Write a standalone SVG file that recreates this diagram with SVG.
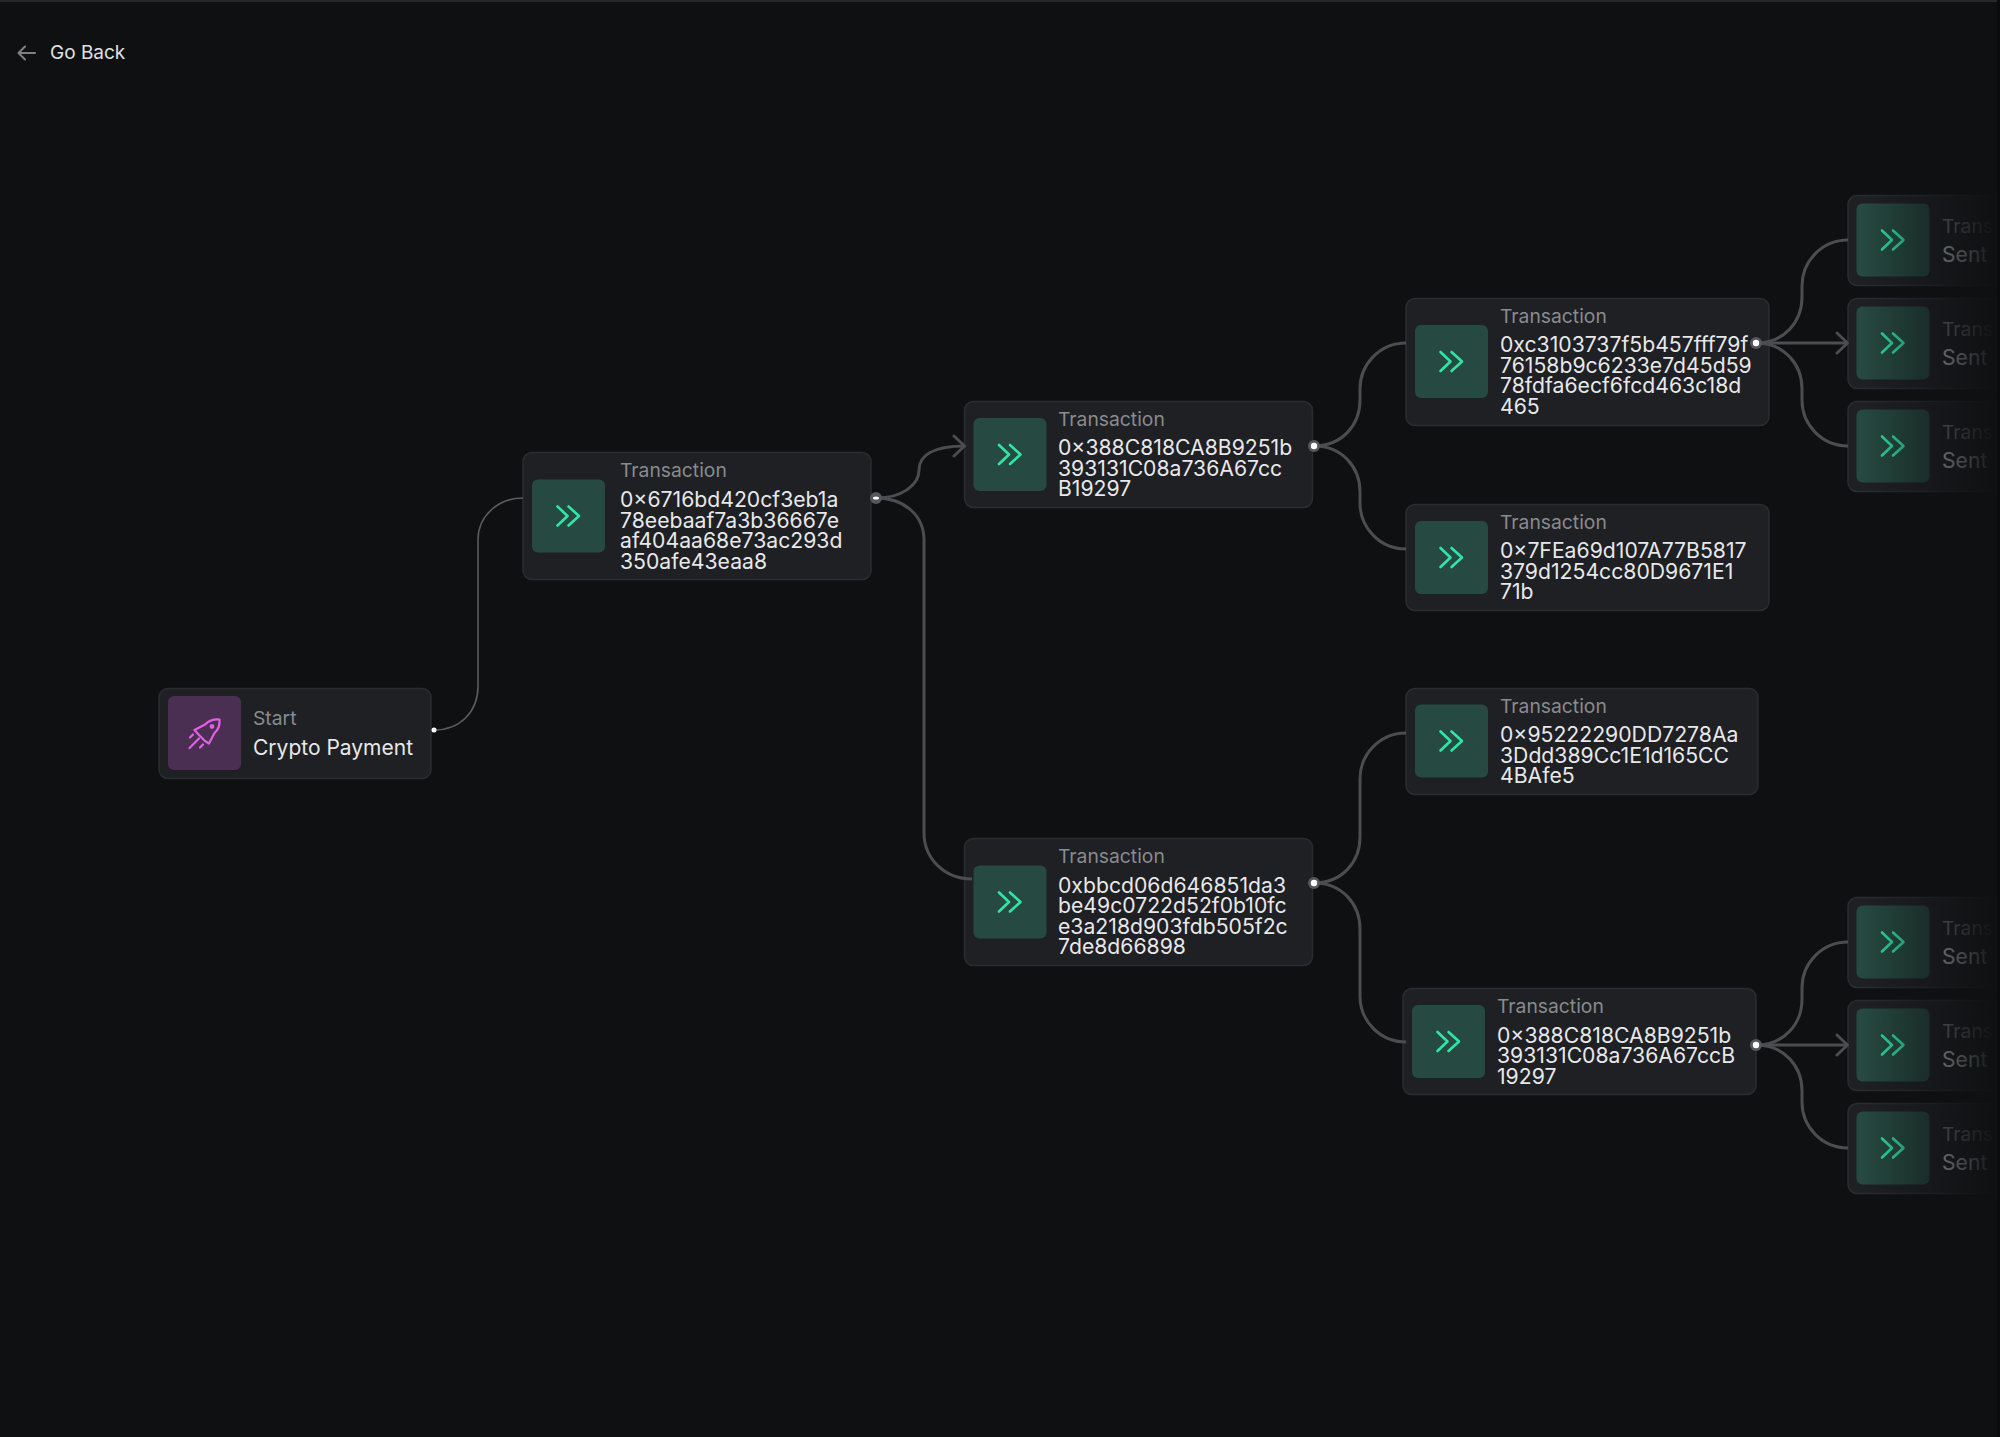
<svg xmlns="http://www.w3.org/2000/svg" xmlns:xlink="http://www.w3.org/1999/xlink" width="2000" height="1437" viewBox="0 0 2000 1437">
<style>
text{font-family:Inter,"Liberation Sans",sans-serif;font-size:21.2px}
.card{fill:#1e2024;stroke:#2a2c30;stroke-width:1.5}
.tile{fill:#264a41}
.chev{fill:none;stroke:#2ee6a6;stroke-width:2.6;stroke-linecap:round;stroke-linejoin:round}
.t{fill:#8a8b8e;font-size:19.3px}
.v{fill:#e8e8ea}
.e{fill:none;stroke:#4b4d51;stroke-width:3}
.ring{fill:#55575b}
.dot{fill:#fff}
.rk{fill:none;stroke:#e35fe8;stroke-width:2.2;stroke-linecap:round;stroke-linejoin:round}
</style>
<defs>
<g id="chv"><path class="chev" d="M-11-9.5L-1 0L-11 9.5M0-9.5L10.5 0L0 9.5"/></g>
<g id="tileT"><rect class="tile" x="-36.5" y="-36.5" width="73" height="73" rx="6"/><use href="#chv"/></g>
<marker id="ah" markerUnits="userSpaceOnUse" markerWidth="16" markerHeight="26" refX="13" refY="13" orient="auto"><path d="M2 3L12.5 13L2 23" fill="none" stroke="#4b4d51" stroke-width="3" stroke-linecap="round" stroke-linejoin="round"/></marker>
<linearGradient id="fade" gradientUnits="userSpaceOnUse" x1="1860" y1="0" x2="1997" y2="0"><stop offset="0" stop-color="#0f1012" stop-opacity="0"/><stop offset="0.5" stop-color="#0f1012" stop-opacity="0.5"/><stop offset="1" stop-color="#0f1012" stop-opacity="1"/></linearGradient>
</defs>
<rect width="2000" height="1437" fill="#0f1012"/>
<rect width="2000" height="2" fill="#26282b"/>
<g id="go-back"><path d="M35 53H19M25 46.500L18.500 53L25 59.500" fill="none" stroke="#808183" stroke-width="2" stroke-linecap="round" stroke-linejoin="round"/><text x="50" y="59" fill="#e0e0e2" style="font-size:19px">Go Back</text></g>
<g id="node-start"><rect class="card" x="159" y="688.500" width="272" height="90" rx="9"/><rect x="168" y="696" width="73" height="74" rx="6" fill="#4a2f52"/>
<path class="rk" d="M219.500 719.500C214 719 209 720.500 205 724.500L194.500 730L199 735L205 741L209 743.500L214.500 733C218.500 729.500 220 725 219.500 719.500ZM190 737.500L193 734.500M189.500 748L199 738.500M200 747.500L203 744.500"/><circle cx="212" cy="726.500" r="1.300" class="rk"/>
<text class="t" x="253" y="725">Start</text><text class="v" style="font-size:21px" x="253" y="754.500">Crypto Payment</text></g>
<g id="node-1"><rect class="card" x="523" y="452.500" width="348" height="127" rx="9"/><use href="#tileT" x="568.500" y="516"/>
<text class="t" x="620" y="477">Transaction</text><text class="v"><tspan x="620" y="507">0×6716bd420cf3eb1a</tspan><tspan x="620" y="527.800">78eebaaf7a3b36667e</tspan><tspan x="620" y="548.400">af404aa68e73ac293d</tspan><tspan x="620" y="569">350afe43eaa8</tspan></text></g>
<g id="node-2"><rect class="card" x="964.500" y="401.500" width="348" height="106" rx="9"/><use href="#tileT" x="1010" y="454.500"/>
<text class="t" x="1058" y="426">Transaction</text><text class="v"><tspan x="1058" y="455">0×388C818CA8B9251b</tspan><tspan x="1058" y="475.500">393131C08a736A67cc</tspan><tspan x="1058" y="496">B19297</tspan></text></g>
<g id="node-3"><rect class="card" x="964.500" y="838.500" width="348" height="127" rx="9"/><use href="#tileT" x="1010" y="902"/>
<text class="t" x="1058" y="863">Transaction</text><text class="v"><tspan x="1058" y="892.500">0xbbcd06d646851da3</tspan><tspan x="1058" y="913">be49c0722d52f0b10fc</tspan><tspan x="1058" y="933.500">e3a218d903fdb505f2c</tspan><tspan x="1058" y="954">7de8d66898</tspan></text></g>
<g id="node-4"><rect class="card" x="1406" y="298.500" width="363" height="127" rx="9"/><use href="#tileT" x="1451.500" y="361.500"/>
<text class="t" x="1500" y="323">Transaction</text><text class="v"><tspan x="1500" y="352">0xc3103737f5b457fff79f</tspan><tspan x="1500" y="372.500">76158b9c6233e7d45d59</tspan><tspan x="1500" y="393">78fdfa6ecf6fcd463c18d</tspan><tspan x="1500" y="413.500">465</tspan></text></g>
<g id="node-5"><rect class="card" x="1406" y="504.500" width="363" height="106" rx="9"/><use href="#tileT" x="1451.500" y="557.500"/>
<text class="t" x="1500" y="529">Transaction</text><text class="v"><tspan x="1500" y="558">0×7FEa69d107A77B5817</tspan><tspan x="1500" y="578.500">379d1254cc80D9671E1</tspan><tspan x="1500" y="599">71b</tspan></text></g>
<g id="node-6"><rect class="card" x="1406" y="688.500" width="352" height="106" rx="9"/><use href="#tileT" x="1451.500" y="741"/>
<text class="t" x="1500" y="713">Transaction</text><text class="v"><tspan x="1500" y="742">0×95222290DD7278Aa</tspan><tspan x="1500" y="762.500">3Ddd389Cc1E1d165CC</tspan><tspan x="1500" y="783">4BAfe5</tspan></text></g>
<g id="node-7"><rect class="card" x="1403" y="988.500" width="353" height="106" rx="9"/><use href="#tileT" x="1448.500" y="1041.500"/>
<text class="t" x="1497" y="1013">Transaction</text><text class="v"><tspan x="1497" y="1042.700">0×388C818CA8B9251b</tspan><tspan x="1497" y="1063.200">393131C08a736A67ccB</tspan><tspan x="1497" y="1083.700">19297</tspan></text></g>
<g id="node-8"><rect class="card" x="1848" y="195.500" width="170" height="90" rx="9"/><use href="#tileT" x="1893" y="240"/><text class="t" x="1942" y="233">Trans</text><text class="v" x="1942" y="262">Sent</text></g>
<g id="node-9"><rect class="card" x="1848" y="298.500" width="170" height="90" rx="9"/><use href="#tileT" x="1893" y="343"/><text class="t" x="1942" y="336">Trans</text><text class="v" x="1942" y="365">Sent</text></g>
<g id="node-10"><rect class="card" x="1848" y="401.500" width="170" height="90" rx="9"/><use href="#tileT" x="1893" y="446"/><text class="t" x="1942" y="439">Trans</text><text class="v" x="1942" y="468">Sent</text></g>
<g id="node-11"><rect class="card" x="1848" y="897.500" width="170" height="90" rx="9"/><use href="#tileT" x="1893" y="942"/><text class="t" x="1942" y="935">Trans</text><text class="v" x="1942" y="964">Sent</text></g>
<g id="node-12"><rect class="card" x="1848" y="1000.500" width="170" height="90" rx="9"/><use href="#tileT" x="1893" y="1045"/><text class="t" x="1942" y="1038">Trans</text><text class="v" x="1942" y="1067">Sent</text></g>
<g id="node-13"><rect class="card" x="1848" y="1103.500" width="170" height="90" rx="9"/><use href="#tileT" x="1893" y="1148"/><text class="t" x="1942" y="1141">Trans</text><text class="v" x="1942" y="1170">Sent</text></g>
<rect x="1860" y="190" width="137" height="1010" fill="url(#fade)"/>
<rect x="1997" y="0" width="3" height="1437" fill="#0b0c0d"/>
<g id="connectors">
<path class="e" style="stroke-width:1.600;stroke:#5a5c60" d="M434 730C460 730 478 712 478 686V540C478 516 498 498 523 498"/>
<path class="e" d="M876 498C902 498 919 485 919 470C919 456 932 446 965 446" marker-end="url(#ah)"/>
<path class="e" d="M876 498C905 498 924 516 924 540V833C924 858 944 879 972 879"/>
<path class="e" d="M1314 446C1342 446 1360 425 1360 400V389C1360 364 1380 343 1406 343"/>
<path class="e" d="M1314 446C1342 446 1360 467 1360 492V503C1360 528 1380 549 1406 549"/>
<path class="e" d="M1314 883C1342 883 1360 862 1360 837V779C1360 754 1380 733 1406 733"/>
<path class="e" d="M1314 883C1342 883 1360 904 1360 929V996C1360 1021 1380 1042 1406 1042"/>
<path class="e" d="M1756 343C1784 343 1802 322 1802 297V286C1802 261 1822 240 1848 240"/>
<path class="e" d="M1756 343H1848" marker-end="url(#ah)"/>
<path class="e" d="M1756 343C1784 343 1802 364 1802 389V400C1802 425 1822 446 1848 446"/>
<path class="e" d="M1756 1045C1784 1045 1802 1024 1802 999V988C1802 963 1822 942 1848 942"/>
<path class="e" d="M1756 1045H1848" marker-end="url(#ah)"/>
<path class="e" d="M1756 1045C1784 1045 1802 1066 1802 1091V1102C1802 1127 1822 1148 1848 1148"/>
</g>
<g id="handles">
<circle cx="434" cy="730" r="2.500" class="dot"/>
<circle cx="876" cy="498" r="6" class="ring"/><ellipse cx="876" cy="498" rx="3" ry="1.500" class="dot"/>
<circle cx="1314" cy="446" r="6" class="ring"/><circle cx="1314" cy="446" r="3.200" class="dot"/>
<circle cx="1314" cy="883" r="6" class="ring"/><circle cx="1314" cy="883" r="3.200" class="dot"/>
<circle cx="1756" cy="343" r="6" class="ring"/><circle cx="1756" cy="343" r="3.200" class="dot"/>
<circle cx="1756" cy="1045" r="6" class="ring"/><circle cx="1756" cy="1045" r="3.200" class="dot"/>
</g>
</svg>
